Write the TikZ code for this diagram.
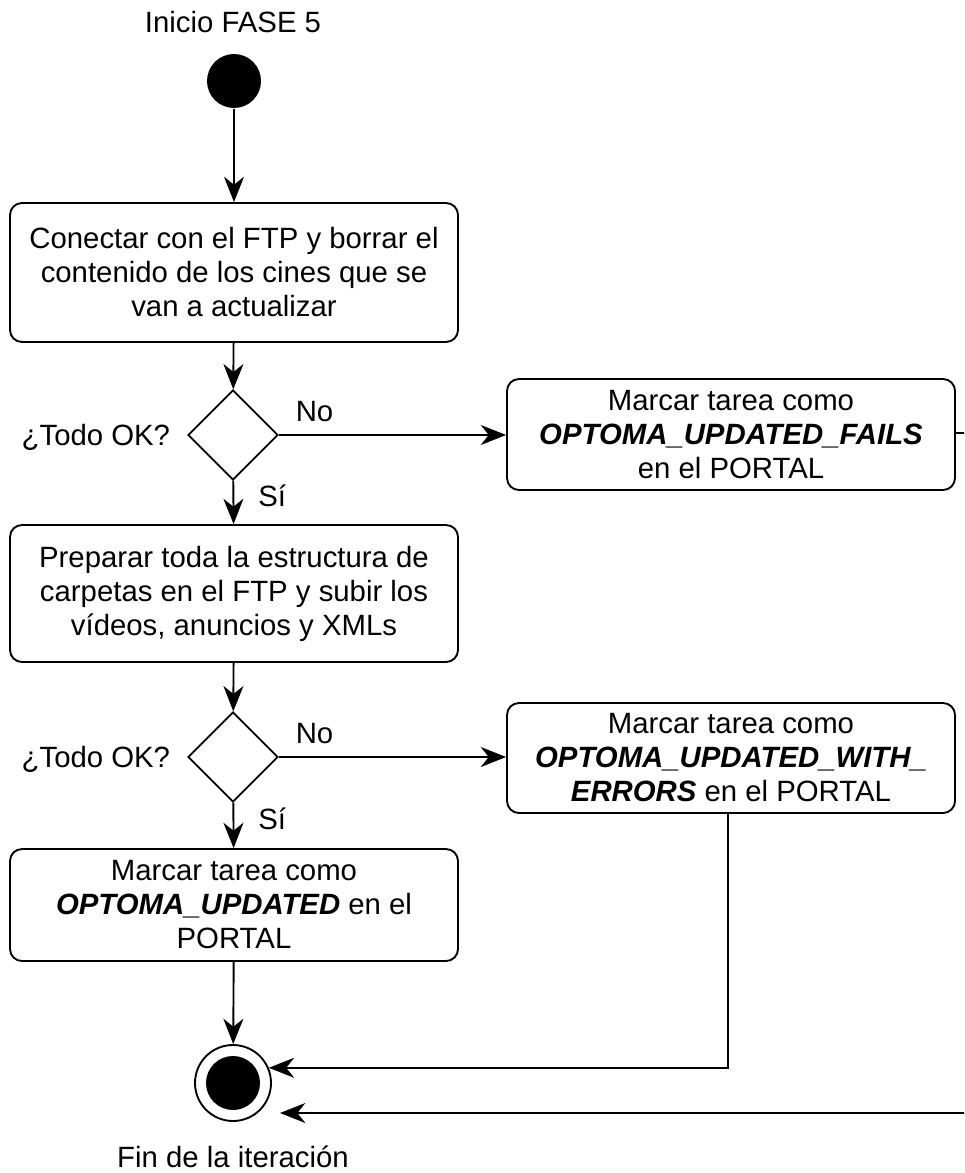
\documentclass[tikz,border=0pt]{standalone}
\usepackage{fontspec}
\setmainfont{Liberation Sans}
\usetikzlibrary{arrows.meta,shapes.geometric}

\begin{document}
\begin{tikzpicture}[x=0.75pt,y=-0.75pt,
  line width=1.4pt,
  every node/.style={font=\fontsize{22}{25.5}\selectfont},
  arr/.style={-{Stealth[length=19pt,width=15pt,inset=6pt]}},
  action/.style={draw,rounded corners=9pt,align=center,inner sep=0pt,
    minimum width=448*0.75pt},
  decision/.style={draw,diamond,aspect=1,inner sep=0pt,minimum size=90*0.75pt},
  label/.style={inner sep=0pt}
]
\path[use as bounding box] (0,0) rectangle (964,1173);
\clip (0,0) rectangle (964,1173);

% start / end states
\node[label] (tstart) at (233,22) {Inicio FASE 5};
\node[circle,fill=black,inner sep=0pt,minimum size=54*0.75pt] (start) at (234,81) {};

\node[circle,draw,inner sep=0pt,minimum size=76*0.75pt] (endn) at (233,1083) {};
\node[circle,fill=black,inner sep=0pt,minimum size=54*0.75pt] (endin) at (endn.center) {};
\node[label] (tend) at (233,1157) {Fin de la iteración};

% actions
\node[action,minimum height=139*0.75pt] (b1) at (234,272.5)
  {Conectar con el FTP y borrar el\\contenido de los cines que se\\van a actualizar};
\node[action,minimum height=137*0.75pt] (b2) at (234,593.5)
  {Preparar toda la estructura de\\carpetas en el FTP y subir los\\vídeos, anuncios y XMLs};
\node[action,minimum height=112*0.75pt] (b3) at (234,905)
  {Marcar tarea como\\\textbf{\textit{OPTOMA\_UPDATED}} en el\\PORTAL};
\node[action,minimum height=111*0.75pt] (fails) at (731,434.5)
  {Marcar tarea como\\\textbf{\textit{OPTOMA\_UPDATED\_FAILS}}\\en el PORTAL};
\node[action,minimum height=110*0.75pt] (werr) at (731,758)
  {Marcar tarea como\\\textbf{\textit{OPTOMA\_UPDATED\_WITH\_}}\\\textbf{\textit{ERRORS}} en el PORTAL};

% decisions
\node[decision] (d1) at (233,435) {};
\node[decision] (d2) at (233,757) {};
\node[label,anchor=east] (q1) at (171,437) {¿Todo OK?};
\node[label,anchor=east] (q2) at (171,759) {¿Todo OK?};

% flow
\draw[arr] (start) -- (b1);
\draw[arr] (b1) -- (d1);
\draw[arr] (d1) -- node[label,pos=0.35,right=18pt] (s1) {Sí} (b2);
\draw[arr] (d1) -- node[label,pos=0.07,above=9pt,anchor=south west] (n1) {No} (fails.west |- d1);
\draw[arr] (b2) -- (d2);
\draw[arr] (d2) -- node[label,pos=0.35,right=18pt] (s2) {Sí} (b3);
\draw[arr] (d2) -- node[label,pos=0.07,above=9pt,anchor=south west] (n2) {No} (werr.west |- d2);
\draw[arr] (b3) -- (endn);
\draw[arr] (werr.south -| 728,0) |- (endn.23);

% loop-back line coming from the right margin
\coordinate (failsout) at (980,433);
\coordinate (backin) at (980,1113);
\coordinate (backtip) at (280,1113);
\draw (fails.east |- failsout) -- (failsout);
\draw[arr] (backin) -- (backtip);
\end{tikzpicture}
\end{document}
